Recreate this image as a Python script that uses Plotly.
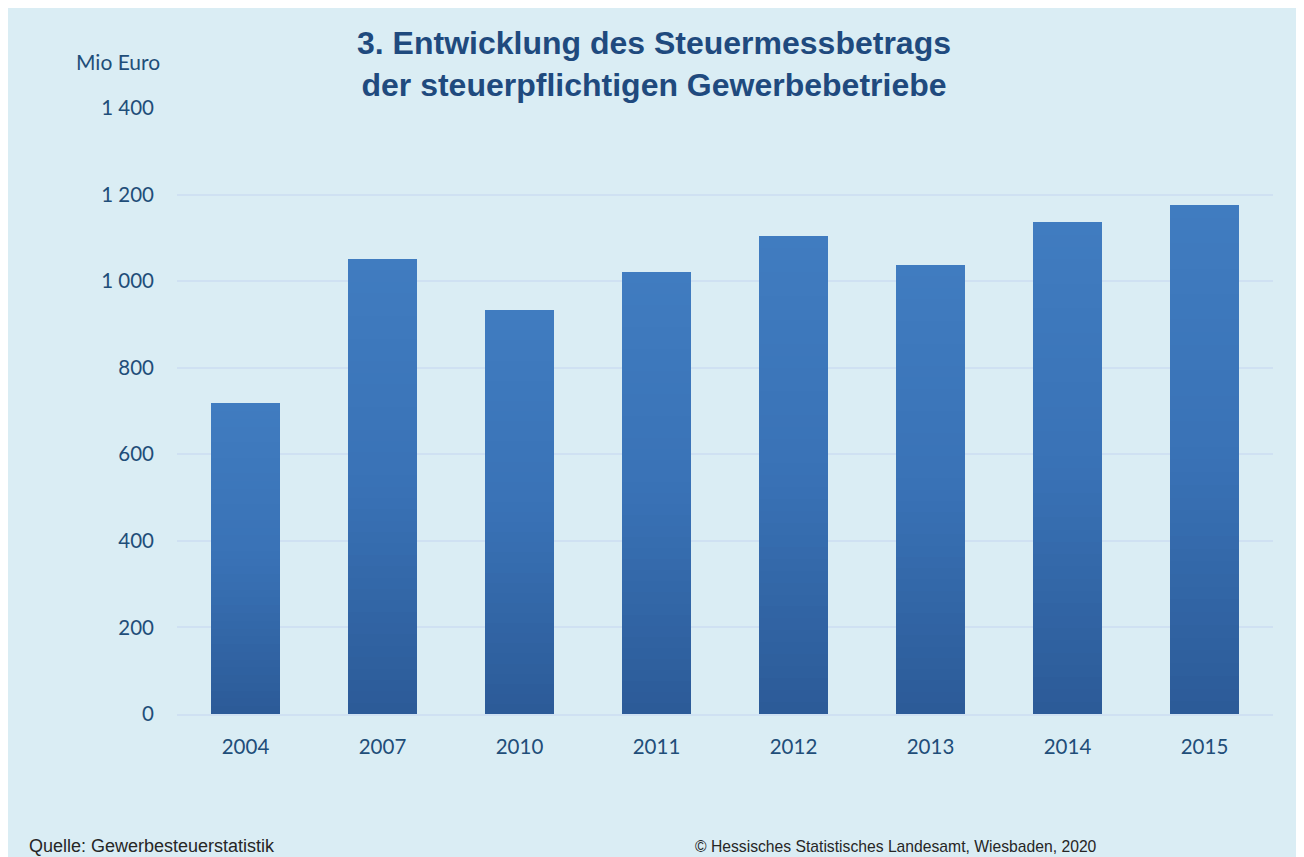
import plotly.graph_objects as go

years = ["2004", "2007", "2010", "2011", "2012", "2013", "2014", "2015"]
values = [718, 1051, 933, 1021, 1104, 1037, 1136, 1176]
y_ticks = [0, 200, 400, 600, 800, 1000, 1200, 1400]

title_text = "3. Entwicklung des Steuermessbetrags<br>der steuerpflichtigen Gewerbebetriebe"
unit_text = "Mio Euro"
source_text = "Quelle: Gewerbesteuerstatistik"
copyright_text = "© Hessisches Statistisches Landesamt, Wiesbaden, 2020"

BG = "#daedf4"
TEXT = "#1f4e79"
W, H = 1296, 849
L, R, T, B = 169, 31, 100, 143
PW, PH = W - L - R, H - T - B

# vertical gradient per bar: bottom dark -> top light
stops = [(0.0, (0x2c, 0x5b, 0x98)), (0.5, (0x39, 0x72, 0xb6)), (1.0, (0x40, 0x7c, 0xc0))]


def grad(t):
    for (t0, c0), (t1, c1) in zip(stops[:-1], stops[1:]):
        if t <= t1:
            f = (t - t0) / (t1 - t0) if t1 > t0 else 0
            return "rgb(%d,%d,%d)" % tuple(round(a + (b - a) * f) for a, b in zip(c0, c1))
    return "rgb(%d,%d,%d)" % stops[-1][1]


def px(x):
    return (x - L) / PW


def py(y):
    return (H - B - y) / PH


N = 40
fig = go.Figure()
for k in range(N):
    fig.add_trace(go.Bar(
        x=years,
        y=[v / N for v in values],
        marker=dict(color=grad(k / (N - 1)), line=dict(width=0)),
        showlegend=False,
        hoverinfo="skip",
    ))

fig.update_layout(
    width=W,
    height=H,
    barmode="stack",
    bargap=0.49,
    paper_bgcolor=BG,
    plot_bgcolor=BG,
    separators=", ",
    margin=dict(l=L, r=R, t=T, b=B),
    title=dict(
        text=title_text,
        xref="container", yref="container",
        x=646 / W, xanchor="center",
        y=1 - 46 / H, yanchor="middle",
        font=dict(family="Liberation Sans, Arial", size=32, color="#1f4a7e", weight="bold"),
    ),
    xaxis=dict(
        type="category",
        showgrid=False,
        showline=True,
        linecolor="#cfe1f2",
        linewidth=2,
        ticks="",
        ticklabelstandoff=13,
        tickfont=dict(family="Lato, Open Sans", size=20.5, color=TEXT),
    ),
    yaxis=dict(
        range=[0, 1400],
        tickvals=y_ticks,
        tickformat=",d",
        showgrid=True,
        gridcolor="#cfe1f2",
        gridwidth=2,
        zeroline=False,
        showline=False,
        ticks="",
        ticklabelstandoff=22,
        tickfont=dict(family="Lato, Open Sans", size=20.5, color=TEXT),
    ),
    annotations=[
        dict(text=unit_text, xref="paper", yref="paper",
             x=px(154), y=py(53),
             xanchor="right", yanchor="middle", showarrow=False,
             font=dict(family="Lato, Open Sans", size=21, color=TEXT)),
        dict(text=source_text, xref="paper", yref="paper",
             x=px(19), y=py(838),
             xanchor="left", yanchor="middle", showarrow=False,
             font=dict(family="Liberation Sans, Arial", size=18, color="#262626")),
        dict(text=copyright_text, xref="paper", yref="paper",
             x=px(685), y=py(838),
             xanchor="left", yanchor="middle", showarrow=False,
             font=dict(family="Liberation Sans, Arial", size=15.7, color="#262626")),
    ],
)

fig.write_html("out.html")
